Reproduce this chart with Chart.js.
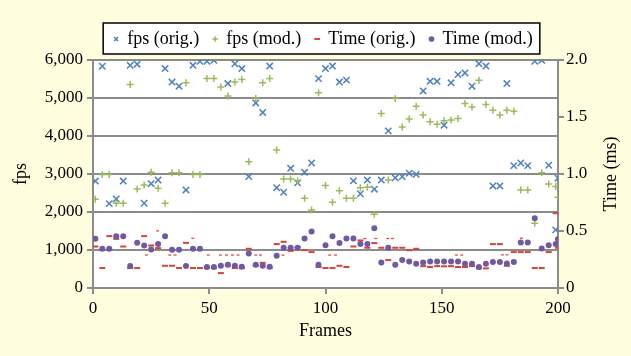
<!DOCTYPE html>
<html>
<head>
<meta charset="utf-8">
<script src="https://cdn.jsdelivr.net/npm/chart.js@4.4.1/dist/chart.umd.min.js"></script>
<style>
	html, body { margin: 0; padding: 0; background: #FFFFE0; }
	#wrap { width: 631px; height: 356px; }
</style>
</head>
<body>
<div id="wrap"><canvas id="fpsChart" width="631" height="356"></canvas></div>
<script>
// sampled frames
const frames = [1, 4, 7, 10, 13, 16, 19, 22, 25, 28, 31, 34, 37, 40, 43, 46, 49, 52, 55, 58,
	61, 64, 67, 70, 73, 76, 79, 82, 85, 88, 91, 94, 97, 100, 103, 106, 109, 112, 115, 118,
	121, 124, 127, 130, 133, 136, 139, 142, 145, 148, 151, 154, 157, 160, 163, 166, 169, 172, 175, 178,
	181, 184, 187, 190, 193, 196, 199, 200];

const fpsOrig = [2815, 5835, 2220, 2345, 2815, 5860, 5890, 2230, 2745, 2840,
	5775, 5420, 5310, 2580, 5860, 5965, 5965, 5990, null, 5380,
	5900, 5775, 2930, 4870, 4620, 5840, 2640, 2520, 3150, 2770,
	3045, 3290, 5510, 5775, 5840, 5420, 5470, 2820, 2480, 2840,
	2600, 2840, 4135, 2900, 2930, 3020, 2990, 5185, 5440, 5440,
	4285, 5400, 5615, 5660, 5310, 5900, 5840, 2685, 2685, 5380,
	3220, 3290, 3220, 5965, 5990, 3230, 1530, 2890];

const fpsMod = [2335, 2990, 2990, 2230, 2230, 5355, 2605, 2710, 3045, 2625,
	2230, 3035, 3035, 5400, 2990, 2990, 5510, 5510, 5290, 5055,
	5420, 5490, 3320, 4985, 5400, 5510, 3630, 2870, 2870, 2825,
	2360, 2055, 5135, 2695, 2255, 2560, 2360, 2360, 2640, 2650,
	1940, 4590, 2840, 4985, 4240, 4445, 4785, 4550, 4375, 4310,
	4400, 4420, 4460, 4855, 4765, 5470, 4830, 4680, 4550, 4680,
	4650, 2580, 2580, 1705, 3030, 2740, 2670, 2390];

const timeOrig = [0.364, 0.175, 0.455, 0.431, 0.364, 0.175, 0.175, 0.455, 0.373, 0.350,
	0.195, 0.195, 0.175, 0.396, 0.175, 0.175, 0.175, 0.175, 0.131, 0.195,
	0.175, 0.175, 0.344, 0.195, 0.221, 0.175, 0.385, 0.405, 0.326, 0.360,
	0.332, 0.315, 0.184, 0.175, 0.175, 0.195, 0.184, 0.364, 0.417, 0.353,
	0.394, 0.353, 0.245, 0.353, 0.353, 0.332, 0.344, 0.192, 0.184, 0.192,
	0.190, 0.192, 0.184, 0.184, 0.192, 0.172, 0.172, 0.385, 0.385, 0.195,
	0.315, 0.315, 0.315, 0.175, 0.175, 0.315, 0.656, 0.353];

const timeMod = [0.431, 0.344, 0.344, 0.455, 0.455, 0.192, 0.396, 0.373, 0.338, 0.385,
	0.455, 0.335, 0.335, 0.192, 0.344, 0.344, 0.184, 0.184, 0.195, 0.204,
	0.195, 0.186, 0.303, 0.204, 0.195, 0.186, 0.283, 0.353, 0.353, 0.353,
	0.434, 0.495, 0.204, 0.376, 0.455, 0.394, 0.434, 0.434, 0.385, 0.385,
	0.525, 0.224, 0.353, 0.204, 0.245, 0.233, 0.213, 0.224, 0.233, 0.233,
	0.233, 0.233, 0.233, 0.213, 0.213, 0.184, 0.213, 0.227, 0.227, 0.215,
	0.227, 0.399, 0.399, 0.612, 0.347, 0.376, 0.385, 0.429];

// the faint short red ticks between samples
const minorFrames = [23, 27.8, 33, 35.3, 42.9, 49.6, 54.8, 57.4, 60, 62.4, 70, 72, 81.7,
	101.8, 104.3, 116.9, 121.6, 126.8, 128.8, 156.3, 158.6, 176.1, 178.1, 184.3];
const minorTime = [0.289, 0.501, 0.289, 0.289, 0.437, 0.289, 0.289, 0.289, 0.289, 0.289, 0.289, 0.289, 0.289,
	0.289, 0.289, 0.434, 0.434, 0.434, 0.434, 0.289, 0.289, 0.291, 0.291, 0.437];

const frameTicks = [0, 50, 100, 150, 200];
const fpsTicks = [0, 1000, 2000, 3000, 4000, 5000, 6000];
const timeTicks = [0, 0.5, 1, 1.5, 2];

const serif = "'Liberation Serif', 'Times New Roman', serif";
const gridGray = '#8c8c8c';
const legendHeight = 44;

const pts = (xs, ys) => xs.map((x, i) => ({ x: x, y: ys[i] }));

const backdrop = {
	id: 'backdrop',
	beforeLayout(chart) {
		// keep the legend row short while its item spacing stays wide
		const lg = chart.legend;
		if (lg && !lg._shortFit) {
			const fit = lg.fit;
			lg.fit = function () {
				fit.call(this);
				this.height = legendHeight;
			};
			lg._shortFit = true;
		}
	},
	beforeDraw(chart) {
		const { ctx, chartArea: a, legend } = chart;
		ctx.save();
		ctx.fillStyle = '#FFFFE0';
		ctx.fillRect(0, 0, chart.width, chart.height);
		ctx.fillStyle = '#ffffff';
		ctx.fillRect(a.left, a.top, a.right - a.left, a.bottom - a.top);
		const boxes = legend.legendHitBoxes;
		if (boxes && boxes.length) {
			const first = boxes[0];
			const last = boxes[boxes.length - 1];
			const x0 = first.left - 11;
			const x1 = last.left + last.width + 7;
			const y0 = first.top - 7;
			const y1 = first.top + first.height + 6;
			ctx.fillRect(x0, y0, x1 - x0, y1 - y0);
			ctx.strokeStyle = '#000';
			ctx.lineWidth = 1.5;
			ctx.strokeRect(x0, y0, x1 - x0, y1 - y0);
		}
		ctx.restore();
	},
	afterDraw(chart) {
		// right axis title reads bottom-to-top like the left one
		const { ctx, chartArea: a } = chart;
		ctx.save();
		ctx.translate(611, (a.top + a.bottom) / 2);
		ctx.rotate(-Math.PI / 2);
		ctx.font = '18px ' + serif;
		ctx.fillStyle = '#000';
		ctx.textAlign = 'center';
		ctx.textBaseline = 'middle';
		ctx.fillText('Time (ms)', 0, 0);
		ctx.restore();
	}
};

new Chart(document.getElementById('fpsChart'), {
	type: 'scatter',
	data: {
		datasets: [{
			label: 'fps (orig.)',
			data: pts(frames, fpsOrig),
			yAxisID: 'y',
			pointStyle: 'crossRot',
			radius: 4.5,
			borderWidth: 1.5,
			borderColor: '#4F81BD',
			backgroundColor: '#4F81BD',
			order: 4
		}, {
			label: 'fps (mod.)',
			data: pts(frames, fpsMod),
			yAxisID: 'y',
			pointStyle: 'cross',
			radius: 3.5,
			borderWidth: 1.5,
			borderColor: '#9BBB59',
			backgroundColor: '#9BBB59',
			order: 3
		}, {
			label: 'Time (orig.)',
			data: pts(frames, timeOrig),
			yAxisID: 'y1',
			pointStyle: 'line',
			radius: 3,
			borderWidth: 2,
			borderColor: '#D9413B',
			backgroundColor: '#D9413B',
			order: 2
		}, {
			label: 'Time (mod.)',
			data: pts(frames, timeMod),
			yAxisID: 'y1',
			pointStyle: 'circle',
			radius: 3,
			borderWidth: 0,
			borderColor: '#7059A0',
			backgroundColor: '#7059A0',
			order: 1
		}, {
			label: 'minor',
			data: pts(minorFrames, minorTime),
			yAxisID: 'y1',
			pointStyle: 'line',
			radius: 1.5,
			borderWidth: 1.2,
			borderColor: '#D9413B',
			backgroundColor: '#D9413B',
			order: 5
		}]
	},
	options: {
		responsive: false,
		animation: false,
		layout: { padding: { top: 16, left: 16, right: 0, bottom: 0 } },
		plugins: {
			tooltip: { enabled: false },
			legend: {
				position: 'top',
				labels: {
					filter: item => item.text !== 'minor',
					sort: (a, b) => a.datasetIndex - b.datasetIndex,
					usePointStyle: true,
					boxWidth: 4,
					boxHeight: 4,
					padding: 14,
					color: '#000',
					font: { family: serif, size: 18 }
				}
			}
		},
		scales: {
			x: {
				type: 'linear',
				min: 0,
				max: 200,
				afterBuildTicks: s => { s.ticks = frameTicks.map(v => ({ value: v })); },
				afterFit: s => { s.height = 68; },
				grid: { drawOnChartArea: false, color: gridGray, lineWidth: 2, tickLength: 6 },
				border: { color: gridGray, width: 2 },
				ticks: { color: '#000', padding: 4, font: { family: serif, size: 17 }, maxRotation: 0 },
				title: { display: true, text: 'Frames', color: '#000', padding: { top: 0, bottom: 14 }, font: { family: serif, size: 18 } }
			},
			y: {
				position: 'left',
				min: 0,
				max: 6000,
				afterBuildTicks: s => { s.ticks = fpsTicks.map(v => ({ value: v })); },
				afterFit: s => { s.width = 77; },
				grid: { color: gridGray, lineWidth: 2, tickLength: 6 },
				border: { color: gridGray, width: 2 },
				ticks: {
					color: '#000',
					padding: 4,
					font: { family: serif, size: 17 },
					callback: v => v.toLocaleString('en-US')
				},
				title: { display: true, text: 'fps', color: '#000', padding: { top: -6, bottom: 0 }, font: { family: serif, size: 18 } }
			},
			y1: {
				position: 'right',
				min: 0,
				max: 2,
				afterBuildTicks: s => { s.ticks = timeTicks.map(v => ({ value: v })); },
				afterFit: s => { s.width = 73; },
				grid: { drawOnChartArea: false, color: gridGray, lineWidth: 2, tickLength: 6 },
				border: { color: gridGray, width: 2 },
				ticks: {
					color: '#000',
					padding: 2,
					font: { family: serif, size: 17 },
					callback: v => v === 0 ? '0' : v.toFixed(1)
				}
			}
		}
	},
	plugins: [backdrop]
});
</script>
</body>
</html>
